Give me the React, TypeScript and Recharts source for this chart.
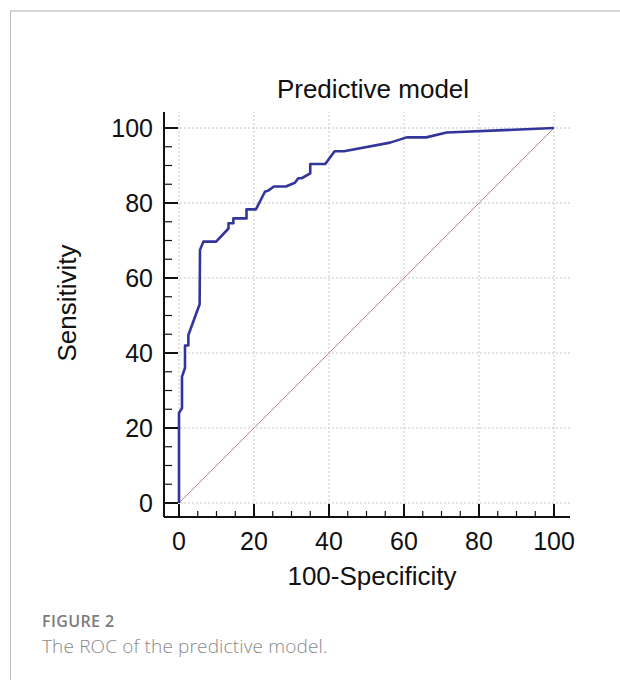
import React from 'react';
import { LineChart, Line, XAxis, YAxis, ReferenceLine } from 'recharts';

// ROC curve (100-specificity vs sensitivity, %)
const ROC_FPR = [0, 0, 0.8, 0.8, 1.6, 1.6, 2.5, 2.5, 5.5, 5.6, 6.5, 9.9, 13.2, 13.2, 14.5, 14.5, 18, 18, 20.5, 21.8, 22.9, 23.8, 25.3, 28.5, 30.9, 31.8, 32.7, 35, 35, 39, 41.5, 44, 56.3, 60.7, 65.9, 71.4, 100];
const ROC_TPR = [0, 24, 25.3, 33.7, 36, 42, 42, 44.8, 53, 67.5, 69.7, 69.7, 73.2, 74.6, 74.6, 75.9, 75.9, 78.3, 78.3, 80.8, 83, 83.3, 84.4, 84.4, 85.4, 86.6, 86.6, 87.9, 90.4, 90.4, 93.8, 93.8, 96.1, 97.5, 97.5, 98.8, 100];

// reference diagonal
const DIAG_X = [0, 100];
const DIAG_Y = [0, 100];

const ALL_TICKS = [0, 5, 10, 15, 20, 25, 30, 35, 40, 45, 50, 55, 60, 65, 70, 75, 80, 85, 90, 95, 100];
const MAJOR_TICKS = [0, 20, 40, 60, 80, 100];

const rocData = ROC_FPR.map((x, i) => ({ x, y: ROC_TPR[i] }));
const diagData = DIAG_X.map((x, i) => ({ x, y: DIAG_Y[i] }));

const FONT = '"Liberation Sans", Arial, sans-serif';
const INK = '#111';
const GRID = '#c8c8c8';

const isMajor = (v: number) => v % 20 === 0;

const XTick = ({ x, y, payload }: any) => {
  const major = isMajor(payload.value);
  return (
    <g>
      <line x1={x} x2={x} y1={y} y2={y - (major ? 13 : 6)} stroke={INK} strokeWidth={major ? 2 : 1.2} />
      {major && (
        <text x={x} y={y + 33} textAnchor="middle" fontSize={25} fontFamily={FONT} fill={INK}>
          {payload.value}
        </text>
      )}
    </g>
  );
};

const YTick = ({ x, y, payload }: any) => {
  const major = isMajor(payload.value);
  return (
    <g>
      <line x1={x} x2={x + (major ? 14 : 8)} y1={y} y2={y} stroke={INK} strokeWidth={major ? 2 : 1.2} />
      {major && (
        <text x={x - 11} y={y + 9} textAnchor="end" fontSize={25} fontFamily={FONT} fill={INK}>
          {payload.value}
        </text>
      )}
    </g>
  );
};

export default function App() {
  return (
    <div style={{ position: 'absolute', left: 0, top: 0, width: 620, height: 680, background: '#fff', overflow: 'hidden' }}>
      {/* figure frame */}
      <div style={{ position: 'absolute', left: 10, top: 10, width: 620, height: 680, borderTop: '2px solid #d6d6d6', borderLeft: '1.5px solid #bdbdbd' }} />

      <div style={{ position: 'absolute', left: 0, top: 0 }}>
        <LineChart width={620} height={600} margin={{ top: 112, right: 50, bottom: 13, left: 0 }}>
          <XAxis
            type="number"
            dataKey="x"
            domain={[0, 100]}
            ticks={ALL_TICKS}
            interval={0}
            padding={{ left: 15, right: 16 }}
            height={70}
            tickSize={0}
            tickMargin={0}
            tickLine={false}
            axisLine={{ stroke: INK, strokeWidth: 2 }}
            tick={<XTick />}
          />
          <YAxis
            type="number"
            dataKey="y"
            domain={[0, 100]}
            ticks={ALL_TICKS}
            interval={0}
            padding={{ top: 16, bottom: 14 }}
            width={164}
            tickSize={0}
            tickMargin={0}
            tickLine={false}
            axisLine={{ stroke: INK, strokeWidth: 2 }}
            tick={<YTick />}
          />
          {MAJOR_TICKS.map((v) => (
            <ReferenceLine key={`h${v}`} y={v} stroke={GRID} strokeDasharray="2 2" strokeWidth={1} />
          ))}
          {MAJOR_TICKS.map((v) => (
            <ReferenceLine key={`v${v}`} x={v} stroke={GRID} strokeDasharray="2 2" strokeWidth={1} />
          ))}
          <Line data={diagData} dataKey="y" stroke="#c4848e" strokeWidth={1} dot={false} isAnimationActive={false} />
          <Line data={rocData} dataKey="y" stroke="#34359a" strokeWidth={2.6} dot={false} strokeLinejoin="round" isAnimationActive={false} />

          <text x={373} y={98} textAnchor="middle" fontSize={26} fontFamily={FONT} fill={INK}>
            Predictive model
          </text>
          <text x={372} y={585} textAnchor="middle" fontSize={26} fontFamily={FONT} fill={INK}>
            100-Specificity
          </text>
          <text x={76} y={303} transform="rotate(-90, 76, 303)" textAnchor="middle" fontSize={26} fontFamily={FONT} fill={INK}>
            Sensitivity
          </text>
        </LineChart>
      </div>

      <div style={{ position: 'absolute', left: 42, top: 611, fontFamily: '"Open Sans", sans-serif', fontSize: 16, fontWeight: 600, color: '#7b7b7b', lineHeight: '20px', letterSpacing: 0.4 }}>
        FIGURE 2
      </div>
      <div style={{ position: 'absolute', left: 42, top: 635, fontFamily: '"Open Sans", sans-serif', fontSize: 19, fontWeight: 300, color: '#8a8a8a', lineHeight: '22px', letterSpacing: 0.15 }}>
        The ROC of the predictive model.
      </div>
    </div>
  );
}
